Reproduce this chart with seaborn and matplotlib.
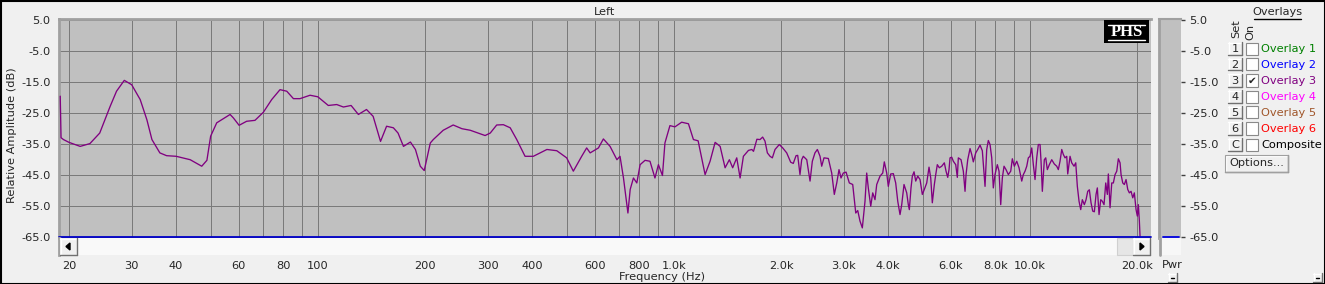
import numpy as np
import pandas as pd
import matplotlib
matplotlib.use("Agg")
import matplotlib.pyplot as plt
import seaborn as sns
from matplotlib.patches import Rectangle, Polygon
from matplotlib.lines import Line2D
from matplotlib.ticker import NullLocator, FixedLocator

# ---------------- data ----------------
freq_hz = [18.9, 19.0, 19.3, 20.0, 21.5, 22.9, 24.4, 26.1, 27.2, 28.6, 30.0, 31.7, 33.1, 34.2, 36.0,
           37.6, 40.0, 43.8, 47.2, 48.8, 50.0, 52.0, 56.7, 57.9, 60.1, 63.1, 66.6, 70.3, 74.2, 78.3,
           81.8, 85.4, 89.1, 95.1, 100, 107, 113, 118, 124, 130, 137, 143, 150, 156, 163,
           168, 174, 182, 188, 194, 199, 207, 211, 225, 240, 254, 268, 295, 305, 318,
           332, 347, 362, 382, 403, 440, 469, 500, 522, 551, 569, 582, 614, 634, 662,
           692, 706, 722, 743, 754, 770, 787, 804, 830, 857, 885, 905, 929, 944, 975,
           1007, 1052, 1099, 1135, 1170, 1224, 1264, 1306, 1349, 1393, 1432, 1463, 1502, 1535, 1568,
           1620, 1656, 1674, 1711,
           1746, 1776, 1803, 1831, 1863, 1891, 1924, 1978, 2022, 2075, 2129, 2165, 2204, 2228, 2261,
           2286, 2310, 2362, 2413, 2449, 2491, 2530, 2574, 2602, 2641, 2716, 2776, 2823, 2868, 2910,
           2948, 2992, 3046, 3111, 3180, 3243, 3285, 3333, 3384, 3443, 3481, 3517, 3573, 3619, 3673,
           3714, 3794, 3861, 3901, 3962, 4003, 4066, 4135, 4199, 4255, 4318, 4366, 4431,
           4509, 4556, 4586, 4636, 4676, 4728, 4780, 4842, 4915, 4988, 5053, 5132, 5209, 5267, 5321,
           5391, 5440, 5496, 5568, 5655, 5751, 5815, 5879, 5928, 5967, 6033, 6096, 6191, 6255, 6296,
           6407, 6503, 6575, 6618, 6691, 6791, 6866, 6937, 7046, 7138, 7245, 7353, 7483, 7565, 7644,
           7729, 7814, 7895, 7982, 8102, 8192, 8282, 8369, 8461, 8571, 8700, 8836, 8928, 9044, 9186,
           9323, 9488, 9587,
           9692, 9800, 9901, 10011, 10122, 10227, 10340, 10454, 10563, 10680, 10749, 10840, 10981, 11081, 11196,
           11342, 11520, 11715, 11898, 12022, 12154, 12289, 12417, 12554, 12693, 12775, 12967, 13110, 13307, 13454,
           13594, 13744, 13896, 14041, 14223, 14381, 14540, 14691, 14853, 15017, 15174, 15342, 15471, 15642, 15815,
           15979, 16156, 16335, 16506, 16612, 16796, 16982, 17159, 17349, 17541, 17723, 17919, 18036, 18235, 18424,
           18628, 18834, 19031, 19241, 19454, 19655, 19873, 20041, 20171, 20303, 20394]
level_db = [-19.6, -33.0, -33.6, -34.5, -35.8, -34.9, -31.5, -22.9, -18.0, -14.5, -15.9, -20.7, -27.2, -33.6, -37.9,
            -38.8, -39.0, -40.1, -42.2, -40.3, -32.5, -28.2, -25.5, -26.6, -29.0, -27.7, -27.4, -24.8, -20.7, -17.5,
            -18.0, -20.4, -20.4, -19.3, -19.8, -22.6, -22.3, -23.1, -22.6, -25.5, -23.9, -26.1, -34.2, -29.3, -29.8,
            -31.5, -35.8, -34.4, -36.8, -42.2, -43.6, -34.7, -33.6, -30.6, -28.9, -30.1, -30.6, -32.3, -31.5, -28.9,
            -28.8, -29.8, -33.6, -39.0, -39.0, -36.8, -37.2, -39.5, -43.8, -39.0, -36.3, -37.9, -36.3, -33.4, -35.8,
            -40.1, -39.0, -46.0, -57.3, -49.7, -46.0, -47.6, -41.7, -40.3, -40.6, -46.0, -41.7, -45.2, -34.7, -29.1,
            -29.5, -28.0, -28.5, -33.6, -34.0, -44.9, -40.6, -34.5, -35.8, -42.7, -40.1, -42.7, -39.5, -46.0, -39.0,
            -37.1, -36.8, -37.4, -33.5,
            -33.6, -32.8, -34.1, -37.9, -39.0, -39.5, -36.8, -35.2, -36.3, -37.9, -40.9, -41.3, -38.8, -38.7, -44.9,
            -40.1, -39.0, -40.1, -47.0, -40.6, -37.9, -36.8, -39.0, -42.2, -39.5, -39.7, -44.4, -51.3, -47.6, -43.3,
            -46.0, -44.4, -44.1, -47.6, -48.1, -57.3, -56.5, -59.9, -62.1, -53.5, -44.4, -49.2, -55.1, -50.8, -53.0,
            -48.1, -45.4, -44.4, -40.8, -44.4, -48.7, -44.7, -44.6, -47.6, -53.5, -57.8, -54.6, -48.1,
            -50.8, -54.6, -56.2, -49.2, -45.4, -44.0, -47.0, -45.4, -46.5, -51.3, -49.7, -47.6, -42.5, -46.0, -54.0,
            -48.1, -44.9, -41.7, -42.7, -42.2, -41.1, -43.8, -45.8, -43.3, -39.5, -39.3, -40.6, -41.7, -45.8, -39.5,
            -40.1, -43.8, -50.3, -44.9, -40.1, -36.5, -38.4, -40.8, -37.9, -36.8, -35.4, -37.2, -48.7, -36.8, -33.9,
            -35.2, -39.5, -49.2, -44.9, -41.7, -43.8, -54.6, -46.0, -42.2, -43.3, -44.9, -43.8, -39.8, -42.2, -40.6,
            -42.7, -47.0, -44.9,
            -43.8, -42.2, -39.5, -39.0, -36.3, -41.7, -46.5, -39.5, -35.2, -35.2, -40.6, -50.3, -40.1, -39.5, -43.3,
            -41.7, -40.1, -41.5, -42.2, -43.3, -40.6, -36.8, -38.4, -39.5, -39.0, -44.7, -39.0, -41.1, -42.2, -41.1,
            -48.7, -53.5, -56.2, -53.0, -54.6, -53.0, -50.3, -49.8, -54.0, -56.7, -56.9, -51.3, -49.2, -57.8, -53.0,
            -53.5, -54.6, -47.6, -51.3, -44.7, -55.6, -47.6, -47.6, -44.9, -43.8, -39.8, -41.1, -44.9, -47.6, -48.1,
            -46.5, -49.7, -50.8, -50.3, -52.4, -50.8, -56.2, -58.3, -54.6, -59.9, -64.9]

grid_freqs = [20, 30, 40, 50, 60, 70, 80, 90, 100, 200, 300, 400, 500, 600, 700, 800, 900,
              1000, 2000, 3000, 4000, 5000, 6000, 7000, 8000, 9000, 10000, 20000]
grid_labels = ["20", "30", "40", "", "60", "", "80", "", "100", "200", "300", "400", "", "600", "",
               "800", "", "1.0k", "2.0k", "3.0k", "4.0k", "", "6.0k", "", "8.0k", "", "10.0k", "20.0k"]
db_ticks = [5, -5, -15, -25, -35, -45, -55, -65]
db_labels = ["5.0", "-5.0", "-15.0", "-25.0", "-35.0", "-45.0", "-55.0", "-65.0"]

overlay_names = ["Overlay 1", "Overlay 2", "Overlay 3", "Overlay 4", "Overlay 5", "Overlay 6", "Composite"]
overlay_sets = ["1", "2", "3", "4", "5", "6", "C"]
overlay_colors = ["#008000", "#0000FF", "#800080", "#FF00FF", "#A0562A", "#FF0000", "#000000"]
overlay_on = [False, False, True, False, False, False, False]

# ---------------- style ----------------
sns.set_style("white")
plt.rcParams["font.family"] = ["DejaVu Sans"]
plt.rcParams["axes.unicode_minus"] = False
FS = 8.2

W, H = 1325, 284
fig = plt.figure(figsize=(W / 100, H / 100), dpi=100, facecolor="#F0F0F0")


def fx(x):
    return x / W


def fy(y):
    return 1 - y / H


def rect(x0, y0, x1, y1, **kw):
    r = Rectangle((fx(x0), fy(y1)), (x1 - x0) / W, (y1 - y0) / H, transform=fig.transFigure, **kw)
    fig.patches.append(r)
    return r


def hline(x0, x1, y, **kw):
    fig.lines.append(Line2D([fx(x0), fx(x1)], [fy(y), fy(y)], transform=fig.transFigure, **kw))


def vline(x, y0, y1, **kw):
    fig.lines.append(Line2D([fx(x), fx(x)], [fy(y0), fy(y1)], transform=fig.transFigure, **kw))


def txt(x, y, s, **kw):
    kw.setdefault("fontsize", FS)
    return fig.text(fx(x), fy(y), s, **kw)


def button(x0, y0, x1, y1):
    rect(x0, y0, x1, y1, facecolor="#F0F0F0", edgecolor="none", zorder=3)
    hline(x0, x1, y0 + 0.5, color="white", lw=1, zorder=4)
    vline(x0 + 0.5, y0, y1, color="white", lw=1, zorder=4)
    hline(x0, x1, y1 - 0.5, color="#707070", lw=1, zorder=4)
    vline(x1 - 0.5, y0, y1, color="#707070", lw=1, zorder=4)


PL, PR, PT, PB, SB = 59, 1151, 19, 237.5, 255
XMIN, XMAX = 18.75, 21890
YMIN, YMAX = -65.2, 5.3

# ---------------- main plot ----------------
ax = fig.add_axes([fx(PL), fy(PB), (PR - PL) / W, (PB - PT) / H])
ax.set_facecolor("#C0C0C0")
df = pd.DataFrame({"Frequency": freq_hz, "Level": level_db})
sns.lineplot(data=df, x="Frequency", y="Level", ax=ax, color="#800080", lw=0.95,
             estimator=None, sort=False, zorder=5)
ax.set_xscale("log")
ax.set_xlim(XMIN, XMAX)
ax.set_ylim(YMIN, YMAX)
ax.xaxis.set_major_locator(FixedLocator(grid_freqs))
ax.xaxis.set_minor_locator(NullLocator())
ax.tick_params(axis="x", length=0, labelbottom=False)
ax.set_yticks(db_ticks)
ax.set_yticklabels(db_labels)
ax.tick_params(axis="y", direction="out", length=3, width=1, pad=3, labelsize=FS, color="#404040")
ax.grid(True, color="#7A7A7A", lw=0.72, snap=True)
ax.axhline(-65, color="#0000C8", lw=1.3, clip_on=False, zorder=6)
ax.set_xlabel("")
ax.set_ylabel("")
ax.set_title("Left", fontsize=FS, pad=3)
for s in ["right", "bottom"]:
    ax.spines[s].set_visible(False)
for s in ["left", "top"]:
    ax.spines[s].set_color("#A0A0A0")
    ax.spines[s].set_linewidth(2)

# ---------------- scrollbar / x axis ----------------
axs = fig.add_axes([fx(PL), fy(SB), (PR - PL) / W, (SB - PB) / H])
axs.set_facecolor("#F9F9F9")
axs.set_xscale("log")
axs.set_xlim(XMIN, XMAX)
axs.set_ylim(0, 1)
axs.xaxis.set_major_locator(FixedLocator(grid_freqs))
axs.xaxis.set_minor_locator(NullLocator())
axs.set_xticklabels(grid_labels)
axs.set_yticks([])
axs.tick_params(axis="x", direction="out", length=3, width=1, pad=1, labelsize=FS, color="#202020")
for s in ["right", "bottom", "top"]:
    axs.spines[s].set_visible(False)
axs.spines["left"].set_color("#A0A0A0")
axs.spines["left"].set_linewidth(2)

# scroll buttons
button(60, 238, 77, 255)
fig.patches.append(Polygon([[fx(66), fy(246.5)], [fx(70), fy(243)], [fx(70), fy(250)]],
                           closed=True, transform=fig.transFigure, color="black", zorder=5))
rect(1117, 238, 1133, 255, facecolor="#E6E6E6", edgecolor="#D0D0D0", lw=0.8, zorder=3)
button(1133, 238, 1150, 255)
fig.patches.append(Polygon([[fx(1144), fy(246.5)], [fx(1140), fy(243)], [fx(1140), fy(250)]],
                           closed=True, transform=fig.transFigure, color="black", zorder=5))

# ---------------- Pwr meter ----------------
axp = fig.add_axes([fx(1159), fy(PB), (1181 - 1159) / W, (PB - PT) / H])
axp.set_facecolor("#C0C0C0")
axp.set_ylim(YMIN, YMAX)
axp.set_xlim(0, 1)
axp.set_xticks([])
axp.yaxis.tick_right()
axp.set_yticks(db_ticks)
axp.set_yticklabels(db_labels)
axp.tick_params(axis="y", direction="out", length=3, width=1, pad=3, labelsize=FS, color="#404040")
axp.plot([0.17, 0.92], [-65, -65], color="#0000E0", lw=1.3, clip_on=False)
for s in ["right", "bottom", "top"]:
    axp.spines[s].set_visible(False)
axp.spines["left"].set_color("#A0A0A0")
axp.spines["left"].set_linewidth(2)
axp.spines["top"].set_visible(True)
axp.spines["top"].set_color("#A0A0A0")
axp.spines["top"].set_linewidth(1.5)
rect(1159, PB, 1181, SB, facecolor="#F7F7F7", edgecolor="none", zorder=1)
vline(1159.5, PB, SB, color="#A0A0A0", lw=2, zorder=2)
txt(1172, 264.5, "Pwr", ha="center", va="center")

# tiny "-" buttons
for bx in (1168, 1313):
    button(bx, 273, bx + 9, 282)
    hline(bx + 3, bx + 6, 278, color="black", lw=1, zorder=5)

# ---------------- PHS logo ----------------
rect(1104, 20, 1149, 43, facecolor="black", edgecolor="none", zorder=6)
txt(1126.5, 32.5, "PHS", ha="center", va="center", color="white", fontsize=12,
    family=["Liberation Serif", "DejaVu Serif"], fontweight="bold", zorder=7)
hline(1108, 1145, 25, color="white", lw=1, zorder=7)
hline(1108, 1145, 40, color="white", lw=1, zorder=7)

# ---------------- labels ----------------
txt(12.5, 135, "Relative Amplitude (dB)", rotation=90, ha="center", va="center")
txt(662, 277.5, "Frequency (Hz)", ha="center", va="center")

# ---------------- overlays panel ----------------
txt(1277, 12, "Overlays", ha="center", va="center")
hline(1254, 1301, 18.5, color="black", lw=1)
txt(1236, 29, "Set", rotation=90, ha="center", va="center")
txt(1250.5, 32, "On", rotation=90, ha="center", va="center")
for i, (name, sset, col, on) in enumerate(zip(overlay_names, overlay_sets, overlay_colors, overlay_on)):
    yc = 48.5 + 16 * i
    button(1228, yc - 6.5, 1242, yc + 6.5)
    txt(1235, yc + 0.3, sset, ha="center", va="center", zorder=6)
    rect(1246, yc - 6, 1258, yc + 6, facecolor="white", edgecolor="#8A8A8A", lw=0.8, zorder=3)
    if on:
        txt(1252, yc + 0.5, "\u2714", ha="center", va="center", fontsize=7.5, zorder=6)
    txt(1261, yc + 0.3, name, ha="left", va="center", color=col)
button(1225, 155, 1288, 172)
rect(1225, 155, 1288, 172, facecolor="none", edgecolor="#A0A0A0", lw=0.8, zorder=5)
txt(1256.5, 163.5, "Options...", ha="center", va="center", zorder=6)

# outer frame
rect(0.5, 0.5, W - 0.5, H - 0.5, facecolor="none", edgecolor="black", lw=1.5, zorder=10)

fig.savefig("out.png", dpi=100, facecolor=fig.get_facecolor())
